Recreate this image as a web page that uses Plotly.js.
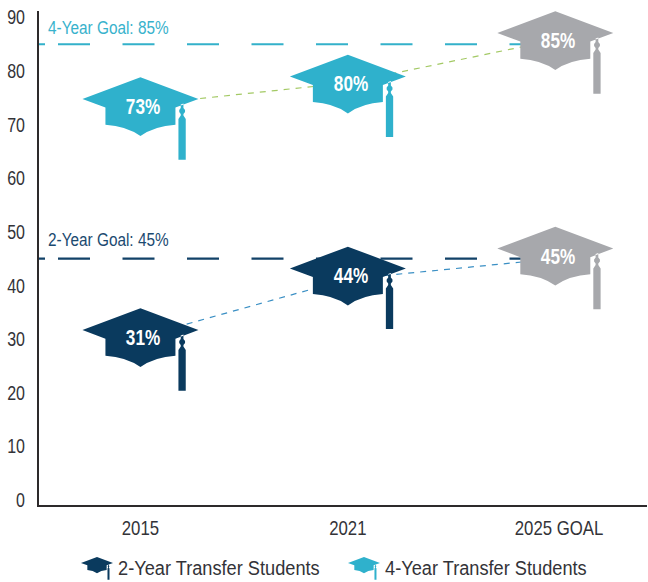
<!DOCTYPE html>
<html><head><meta charset="utf-8">
<script src="https://cdn.plot.ly/plotly-3.0.1.min.js"></script>
<style>html,body{margin:0;padding:0;background:#fff}</style></head>
<body><div id="chart" style="width:648px;height:582px"></div>
<script>
const categories = ['2015', '2021', '2025 GOAL'];
const yTicks = [0, 10, 20, 30, 40, 50, 60, 70, 80, 90];
const twoYearLabels = [31, 44, 45];
const fourYearLabels = [73, 80, 85];
const twoYearLine = [30.4, 41.2, 45];
const fourYearLine = [73.7, 77.8, 85.8];
const twoYearHat = [31.7, 43.2, 46.9];
const fourYearHat = [74.8, 79, 87.1];
const twoYearGoal = 45;
const fourYearGoal = 85;
const NAVY = '#0a3a5e', TEAL = '#2fb1cc', GREY = '#a7a8ac';
const FONT = '"Liberation Sans",sans-serif';
const idx = categories.map((_, i) => i);

function hatPath(s) {
  const n = v => (v * s).toFixed(2);
  const P = (x, y) => n(x) + ' ' + n(y);
  return 'M' + P(-58, 0) + 'L' + P(0, 21.7) + 'L' + P(58, 0) + 'L' + P(35, -8.6) + 'L' + P(35, -25.7) +
    'Q' + P(14, -27) + ' ' + P(0, -37) + 'Q' + P(-14, -27) + ' ' + P(-35, -25.7) + 'L' + P(-35, -8.6) + 'Z' +
    'M' + P(40.3, -5.5) + 'L' + P(43, -4.5) + 'L' + P(43, -9) + 'L' + P(44.6, -11) + 'L' + P(44.6, -13) + 'L' + P(43, -15) +
    'L' + P(43, -16.5) + 'L' + P(45.3, -20) + 'L' + P(45.3, -60.7) + 'L' + P(38, -60.7) + 'L' + P(38, -20) +
    'L' + P(40.3, -16.5) + 'L' + P(40.3, -15) + 'L' + P(38.8, -13) + 'L' + P(38.8, -11) + 'L' + P(40.3, -9) + 'Z';
}
function hatShape(i, v, color) {
  return {type: 'path', xref: 'x', yref: 'y', xsizemode: 'pixel', ysizemode: 'pixel', xanchor: i, yanchor: v,
    path: hatPath(1), fillcolor: color, line: {width: 0}, layer: 'above'};
}
function legendIcon(xf, color) {
  return {type: 'path', xref: 'paper', yref: 'paper', xsizemode: 'pixel', ysizemode: 'pixel', xanchor: xf, yanchor: -0.1174,
    path: hatPath(0.276), fillcolor: color, line: {width: 0}, layer: 'above'};
}
const shapes = [];
idx.forEach(i => {
  const goal = i === 2;
  shapes.push(hatShape(i, twoYearHat[i], goal ? GREY : NAVY));
  shapes.push(hatShape(i, fourYearHat[i], goal ? GREY : TEAL));
});
shapes.push(legendIcon(0.0954, NAVY), legendIcon(0.5345, TEAL));

const pctNote = (i, hat, lab) => ({x: i, y: hat[i], xref: 'x', yref: 'y', text: '<b>' + lab[i] + '%</b>', showarrow: false,
  xshift: 3, yshift: -7.5, font: {family: FONT, size: 22, color: '#fff'}});
const annotations = [];
idx.forEach(i => {
  annotations.push(pctNote(i, twoYearHat, twoYearLabels), pctNote(i, fourYearHat, fourYearLabels));
});
const goalNote = (v, t, c, dy) => ({x: -0.456, y: v, xref: 'x', yref: 'y', xanchor: 'left', yanchor: 'middle', text: t,
  showarrow: false, yshift: dy, font: {family: FONT, size: 18.5, color: c}});
annotations.push(goalNote(fourYearGoal, '4-Year Goal: 85%', '#38b2cc', 17));
annotations.push(goalNote(twoYearGoal, '2-Year Goal: 45%', '#1b4a70', 19));
const legendNote = (xp, t) => ({x: xp, y: -0.1275, xref: 'paper', yref: 'paper', xanchor: 'left', yanchor: 'middle', text: t,
  showarrow: false, font: {family: FONT, size: 21, color: '#333338'}});
annotations.push(legendNote(0.1266, '2-Year Transfer Students'), legendNote(0.5657, '4-Year Transfer Students'));

const goalX = [-0.489, 2];
const goalDash = '6px,13px,' + Array(9).fill('32px,32.5px').join(',');
const traces = [
  {x: goalX, y: goalX.map(() => fourYearGoal), mode: 'lines', line: {color: '#33b1ca', width: 2.2, dash: goalDash}, hoverinfo: 'skip'},
  {x: goalX, y: goalX.map(() => twoYearGoal), mode: 'lines', line: {color: '#124268', width: 2.2, dash: goalDash}, hoverinfo: 'skip'},
  {x: idx, y: fourYearLine, name: '4-Year Transfer Students', mode: 'lines', line: {color: '#a3c964', width: 1.2, dash: '6px,6px'}},
  {x: idx, y: twoYearLine, name: '2-Year Transfer Students', mode: 'lines', line: {color: '#3a8fc4', width: 1.2, dash: '6px,6px'}}
];
const layout = {
  width: 648, height: 582, showlegend: false, paper_bgcolor: '#fff', plot_bgcolor: '#fff',
  margin: {l: 39, r: 1, t: 11, b: 77},
  font: {family: FONT, color: '#333338'},
  xaxis: {range: [-0.489, 2.442], tickmode: 'array', tickvals: idx.map(i => i === 2 ? 2.018 : i), ticktext: categories, showgrid: false, zeroline: false,
    showline: true, linecolor: '#2d2a2b', linewidth: 2, ticks: '', ticklabelstandoff: 4, tickfont: {family: FONT, size: 20, color: '#333338'}},
  yaxis: {range: [-0.93, 91.2], tickmode: 'array', tickvals: yTicks, showgrid: false, zeroline: false,
    showline: true, linecolor: '#2d2a2b', linewidth: 2, ticks: '', ticklabelstandoff: 8, tickfont: {family: FONT, size: 20, color: '#333338'}},
  shapes, annotations
};
// The reference uses a condensed face; narrow the real text horizontally about its anchor.
function narrow(el, f, pivot) {
  const t = el.getAttribute('transform') || '';
  el.setAttribute('transform', t + ' translate(' + pivot + ' 0) scale(' + f + ' 1) translate(' + (-pivot) + ' 0)');
}
Plotly.newPlot('chart', traces, layout, {displayModeBar: false, staticPlot: true}).then(gd => {
  gd.querySelectorAll('.xtick text').forEach(el => narrow(el, 0.84, parseFloat(el.getAttribute('x')) || 0));
  gd.querySelectorAll('.ytick text').forEach(el => narrow(el, 0.8, parseFloat(el.getAttribute('x')) || 0));
  gd.querySelectorAll('.annotation-text').forEach(el => {
    const txt = el.textContent;
    if (txt.includes('Transfer')) narrow(el, 0.867, el.getBBox().x);
    else if (txt.includes('Goal')) narrow(el, 0.83, el.getBBox().x);
    else narrow(el, 0.78, el.getBBox().x + el.getBBox().width / 2);
  });
});
</script></body></html>
